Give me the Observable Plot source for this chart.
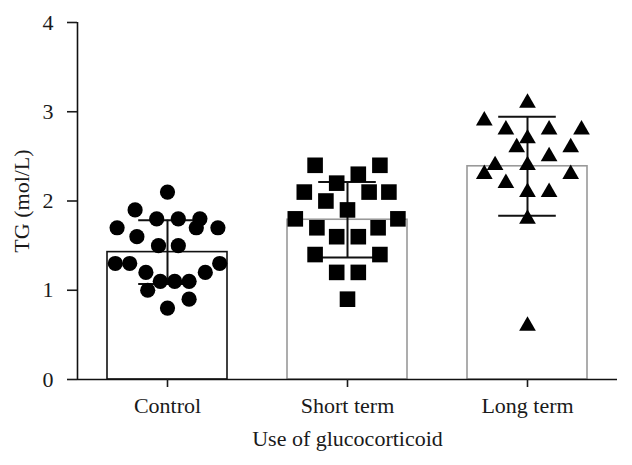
<!DOCTYPE html>
<html>
<head>
<meta charset="utf-8">
<script src="https://cdn.jsdelivr.net/npm/d3@7"></script>
<script src="https://cdn.jsdelivr.net/npm/@observablehq/plot@0.6"></script>
<style>
  html, body { margin: 0; padding: 0; background: #fff; }
</style>
</head>
<body>
<div id="chart"></div>
<script>
const categories = ["Control", "Short term", "Long term"];
const yTicks = [0, 1, 2, 3, 4];

// individual TG values (mol/L) per group, with horizontal scatter offsets (category units)
const controlValues = [2.1, 1.9, 1.8, 1.8, 1.8, 1.7, 1.7, 1.7, 1.6, 1.5, 1.5, 1.3, 1.3, 1.3, 1.2, 1.2, 1.1, 1.1, 1.1, 1.0, 0.9, 0.8];
const controlJitter = [0, -0.18, -0.06, 0.06, 0.18, -0.28, 0.16, 0.28, -0.17, -0.05, 0.06, -0.29, -0.21, 0.29, -0.12, 0.21, -0.04, 0.04, 0.12, -0.11, 0.12, 0];

const shortValues = [2.4, 2.4, 2.3, 2.2, 2.1, 2.1, 2.1, 2.0, 1.9, 1.8, 1.8, 1.7, 1.7, 1.6, 1.6, 1.4, 1.4, 1.2, 1.2, 0.9];
const shortJitter = [-0.18, 0.18, 0.06, -0.06, -0.24, 0.12, 0.23, -0.12, 0, -0.29, 0.28, -0.17, 0.17, -0.06, 0.06, -0.18, 0.18, -0.06, 0.06, 0];

const longValues = [3.1, 2.9, 2.8, 2.8, 2.8, 2.7, 2.6, 2.6, 2.5, 2.4, 2.4, 2.3, 2.3, 2.2, 2.1, 2.1, 1.8, 0.6];
const longJitter = [0, -0.24, -0.12, 0.12, 0.30, 0, -0.06, 0.24, 0.12, -0.18, 0, -0.24, 0.24, -0.12, 0, 0.12, 0, 0];

const groups = [
  {values: controlValues, jitter: controlJitter},
  {values: shortValues, jitter: shortJitter},
  {values: longValues, jitter: longJitter}
];

const points = groups.map((g, i) => g.values.map((v, k) => ({i, v, j: g.jitter[k]})));
const stats = groups.map((g, i) => {
  const m = d3.mean(g.values), s = d3.deviation(g.values);
  return {i, mean: m, lo: m - s, hi: m + s};
});

const half = 1 / 3;   // bar half-width in category units
const cap = 0.16;     // error bar cap half-width

const chart = Plot.plot({
  width: 632,
  height: 465,
  marginLeft: 77,
  marginRight: 15,
  marginTop: 22,
  marginBottom: 86,
  style: {fontFamily: "'Liberation Serif', 'DejaVu Serif', serif", fontSize: "22px", color: "#1a1a1a", background: "#fff"},
  x: {domain: [-0.5, 2.5]},
  y: {domain: [0, 4]},
  marks: [
    Plot.rectY(stats.filter(d => d.i === 0), {x1: d => d.i - half, x2: d => d.i + half, y1: 0, y2: "mean", fill: "#fff", stroke: "#111", strokeWidth: 1.6}),
    Plot.rectY(stats.filter(d => d.i > 0), {x1: d => d.i - half, x2: d => d.i + half, y1: 0, y2: "mean", fill: "#fff", stroke: "#999", strokeWidth: 1.6}),
    Plot.ruleX(stats, {x: "i", y1: "lo", y2: "hi", stroke: "#111", strokeWidth: 2}),
    Plot.ruleY(stats, {y: "hi", x1: d => d.i - cap, x2: d => d.i + cap, stroke: "#111", strokeWidth: 2}),
    Plot.ruleY(stats, {y: "lo", x1: d => d.i - cap, x2: d => d.i + cap, stroke: "#111", strokeWidth: 2}),
    Plot.dot(points[0], {x: d => d.i + d.j, y: "v", symbol: "circle", r: 7.6, fill: "#000", stroke: "none"}),
    Plot.dot(points[1], {x: d => d.i + d.j, y: "v", symbol: "square", r: 8.8, fill: "#000", stroke: "none"}),
    Plot.dot(points[2], {x: d => d.i + d.j, y: "v", symbol: "triangle", r: 6.2, fill: "#000", stroke: "none"}),
    Plot.ruleY([0], {stroke: "#111", strokeWidth: 1.6}),
    Plot.ruleX([-0.5], {stroke: "#111", strokeWidth: 1.6}),
    Plot.axisX({
      ticks: [0, 1, 2], tickFormat: i => categories[i],
      tickSize: 8, tickPadding: 10, strokeWidth: 1.6, fontSize: 22,
      label: "Use of glucocorticoid", labelAnchor: "center", labelArrow: "none", labelOffset: 66
    }),
    Plot.axisY({
      ticks: yTicks, tickFormat: d => String(d),
      tickSize: 10, tickPadding: 14, strokeWidth: 1.6, fontSize: 22,
      label: "TG (mol/L)", labelAnchor: "center", labelArrow: "none", labelOffset: 64
    })
  ]
});
document.getElementById("chart").appendChild(chart);
</script>
</body>
</html>
